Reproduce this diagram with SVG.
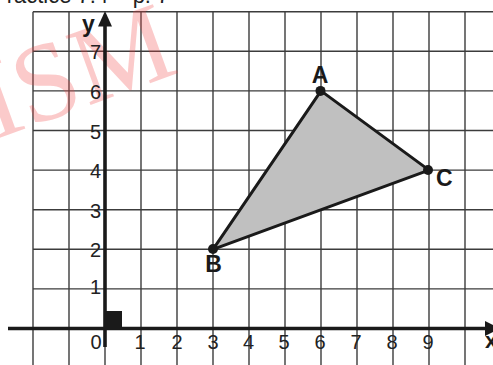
<svg xmlns="http://www.w3.org/2000/svg" width="493" height="365" viewBox="0 0 493 365">
<style>
.grid{stroke:#3c3c3c;stroke-width:1.4;fill:none}
.axis{stroke:#1a1a1a;stroke-width:3.6;fill:none}
.tick{font-family:"Liberation Sans",Arial,sans-serif;font-size:20px;fill:#222}
.lbl{font-family:"Liberation Sans",Arial,sans-serif;font-size:23px;font-weight:bold;fill:#1a1a1a}
.dot{fill:#1a1a1a}
.edge{stroke:#1a1a1a;stroke-width:3;stroke-linejoin:round}
</style>
<rect width="493" height="365" fill="#ffffff"/>
<text x="-8" y="2.5" style="font-family:'Liberation Sans',Arial,sans-serif;font-size:22px;fill:#222">Practice 7.4 – p. 7</text>
<g id="grid" class="grid">
<path d="M33 11.7V365M69 11.7V365M141 11.7V365M177 11.7V365M213 11.7V365M249 11.7V365M285 11.7V365M321 11.7V365M357 11.7V365M393 11.7V365M429 11.7V365M465 11.7V365M105 340V365"/>
<path d="M33 11.7H493M33 51.3H493M33 90.9H493M33 130.5H493M33 170.1H493M33 209.7H493M33 249.3H493M33 288.9H493"/>
</g>
<text x="-6" y="140" transform="rotate(-20 -6 140)" style="font-family:'Liberation Serif','Times New Roman',serif;font-size:112px;fill:#f04040;fill-opacity:0.28">ISM</text>
<g id="connectors">
<polygon class="edge" points="321,90.9 429,170.1 213,249.3" fill="#c0c0c0"/>
</g>
<g id="axes">
<path class="axis" d="M105 26V347"/>
<path class="axis" d="M8 328.5H486"/>
<polygon points="105,11 98,26.5 112,26.5" fill="#1a1a1a"/>
<polygon points="500,328.5 485,321 485,336" fill="#1a1a1a"/>
<rect x="105" y="311" width="17" height="17.5" fill="#1a1a1a"/>
<text class="lbl" x="82" y="32" style="font-size:23px">y</text>
<text class="lbl" x="485" y="348" style="font-size:22px">x</text>
</g>
<g id="ticks" class="tick">
<g text-anchor="end">
<text x="101" y="59">7</text>
<text x="101" y="98.5">6</text>
<text x="101" y="139">5</text>
<text x="101" y="178">4</text>
<text x="101" y="218">3</text>
<text x="101" y="257">2</text>
<text x="101" y="293.5">1</text>
</g>
<g text-anchor="middle">
<text x="96" y="349">0</text>
<text x="140" y="349">1</text>
<text x="177" y="349">2</text>
<text x="213" y="349">3</text>
<text x="248.5" y="349">4</text>
<text x="284" y="349">5</text>
<text x="320" y="349">6</text>
<text x="356" y="349">7</text>
<text x="392" y="349">8</text>
<text x="428" y="349">9</text>
</g>
</g>
<g id="node-A">
<circle class="dot" cx="320.5" cy="90.9" r="5"/>
<text class="lbl" x="320" y="82.5" text-anchor="middle">A</text>
</g>
<g id="node-B">
<circle class="dot" cx="213" cy="249" r="5"/>
<text class="lbl" x="213.5" y="272" text-anchor="middle">B</text>
</g>
<g id="node-C">
<circle class="dot" cx="428" cy="170" r="5"/>
<text class="lbl" x="436" y="186">C</text>
</g>
</svg>
